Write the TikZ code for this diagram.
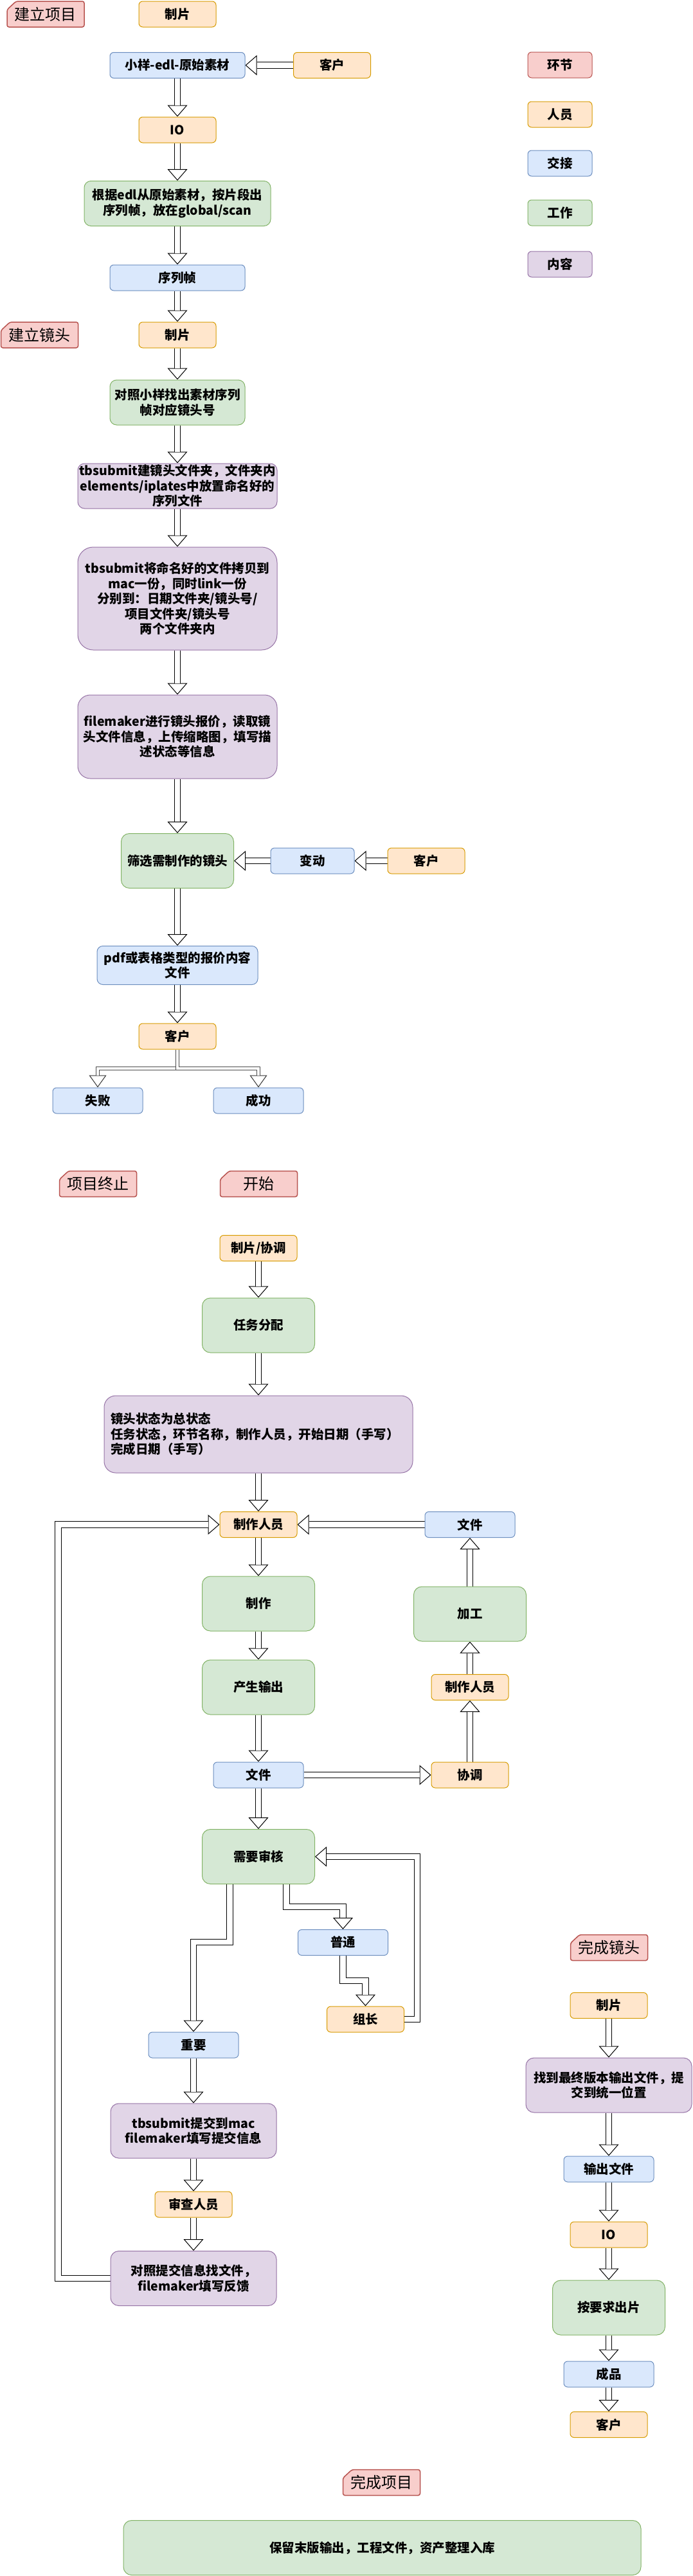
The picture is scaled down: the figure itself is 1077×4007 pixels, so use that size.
\documentclass[tikz,border=0pt]{standalone}
\usepackage{fontspec}
\setmainfont{Noto Sans CJK SC}
\usetikzlibrary{arrows.meta,backgrounds,calc}
\definecolor{redF}{HTML}{F8CECC}\definecolor{redS}{HTML}{B85450}
\definecolor{orgF}{HTML}{FFE6CC}\definecolor{orgS}{HTML}{D79B00}
\definecolor{bluF}{HTML}{DAE8FC}\definecolor{bluS}{HTML}{6C8EBF}
\definecolor{grnF}{HTML}{D5E8D4}\definecolor{grnS}{HTML}{82B366}
\definecolor{purF}{HTML}{E1D5E7}\definecolor{purS}{HTML}{9673A6}
\pgfdeclarelayer{bottom}
\pgfsetlayers{bottom,background,main}
\tikzset{
  bx/.style n args={2}{rectangle, minimum width=#1, minimum height=#2,
    rounded corners={0.15*min(#1,#2)}, line width=1pt, inner sep=0pt,
    align=center, font=\bfseries\fontsize{19.5}{23.5}\selectfont},
  hj/.style={fill=redF, draw=redS},
  ren/.style={fill=orgF, draw=orgS},
  jj/.style={fill=bluF, draw=bluS},
  gz/.style={fill=grnF, draw=grnS},
  nr/.style={fill=purF, draw=purS},
  tagtext/.style={inner sep=0pt, font=\fontsize{24}{28}\selectfont, text=black},
  tagshape/.style={fill=redF, draw=redS, line width=1.5pt, rounded corners=3pt},
  headpath/.style={draw=white, line width=1pt,
    -{Triangle[length=18pt, width=31pt, color=black, fill=white, line width=1pt]}},
  shaft/.style={draw=black, line width=1pt, double=white, double distance=8.5pt,
    line join=miter, shorten >=18pt},
  headthin/.style={draw=white, line width=1pt,
    -{Triangle[length=19pt, width=27pt, color=black!80, fill=white, line width=1pt]}},
  shaftthin/.style={draw=black!70, line width=1pt, double=white, double distance=4pt,
    line join=miter, shorten >=19pt},
}
\newcommand\flex[1]{\draw[headpath] #1; \draw[shaft] #1;}
\newcommand\flexthin[1]{\draw[headthin] #1; \draw[shaftthin] #1;}
\newcommand\tagnode[4]{%
  \filldraw[tagshape] (#2,#3) ++(-60,20) -- ++(0,-27) -- ++(14,-13) -- ++(106,0) -- ++(0,40) -- cycle;
  \node[tagtext] (#1) at (#2,#3) {#4};
}
\begin{document}
\begin{tikzpicture}[x=1pt,y=-1pt]
\begin{pgfonlayer}{bottom}
\fill[white] (0,0) rectangle (1077,4007);
\end{pgfonlayer}
\useasboundingbox (0,0) rectangle (1077,4007);

% ---------- section 1 ----------
\tagnode{tagA}{71}{22}{建立项目}
\node[bx={120pt}{40pt},ren] (zp1) at (276,22) {制片};
\node[bx={210pt}{40pt},jj] (xy) at (276,101.5) {小样-edl-原始素材};
\node[bx={120pt}{40pt},ren] (kh1) at (516.5,101.5) {客户};
\node[bx={120pt}{40pt},ren] (io1) at (276,202) {IO};
\node[bx={290pt}{70pt},gz] (gj) at (276,316.5) {根据edl从原始素材，按片段出\\序列帧，放在global/scan};
\node[bx={210pt}{40pt},jj] (xlz) at (276,432) {序列帧};
\tagnode{tagB}{61.5}{521}{建立镜头}
\node[bx={120pt}{40pt},ren] (zp2) at (276,521) {制片};
\node[bx={210pt}{70pt},gz] (dz) at (276,626) {对照小样找出素材序列\\帧对应镜头号};
\node[bx={310pt}{70pt},nr] (tb1) at (276,756) {tbsubmit建镜头文件夹，文件夹内\\elements/iplates中放置命名好的\\序列文件};
\node[bx={310pt}{160pt},nr] (tb2) at (276,931) {tbsubmit将命名好的文件拷贝到\\mac一份，同时link一份\\分别到：日期文件夹/镜头号/\\项目文件夹/镜头号\\两个文件夹内};
\node[bx={310pt}{130pt},nr] (fm) at (276,1146) {filemaker进行镜头报价，读取镜\\头文件信息，上传缩略图，填写描\\述状态等信息};
\node[bx={175pt}{85pt},gz] (sx) at (276,1339) {筛选需制作的镜头};
\node[bx={130pt}{40pt},jj] (bd) at (486,1339) {变动};
\node[bx={120pt}{40pt},ren] (kh2) at (663,1339) {客户};
\node[bx={250pt}{60pt},jj] (pdf) at (276,1501.5) {pdf或表格类型的报价内容\\文件};
\node[bx={120pt}{40pt},ren] (kh3) at (276,1612) {客户};
\node[bx={140pt}{40pt},jj] (sb) at (152,1712) {失败};
\node[bx={140pt}{40pt},jj] (cg) at (402,1712) {成功};

% ---------- legend ----------
\node[bx={100pt}{40pt},hj] (lg1) at (871,101) {环节};
\node[bx={100pt}{40pt},ren] (lg2) at (871,178) {人员};
\node[bx={100pt}{40pt},jj] (lg3) at (871,254) {交接};
\node[bx={100pt}{40pt},gz] (lg4) at (871,331) {工作};
\node[bx={100pt}{40pt},nr] (lg5) at (871,411) {内容};

% ---------- section 2 ----------
\tagnode{tagC}{152.5}{1841.5}{项目终止}
\tagnode{tagD}{402.5}{1841.5}{开始}
\node[bx={120pt}{40pt},ren] (zpxt) at (402,1941.5) {制片/协调};
\node[bx={175pt}{85pt},gz] (rwfp) at (402,2061.5) {任务分配};
\node[bx={480pt}{120pt},nr,align=left,text width=460pt] (jtzt) at (402,2231) {镜头状态为总状态\\任务状态，环节名称，制作人员，开始日期（手写）\\完成日期（手写）};
\node[bx={120pt}{40pt},ren] (zzry1) at (402,2371.5) {制作人员};
\node[bx={140pt}{40pt},jj] (wj1) at (731,2371.5) {文件};
\node[bx={175pt}{85pt},gz] (zz) at (402,2494.5) {制作};
\node[bx={175pt}{85pt},gz] (jg) at (731,2510.5) {加工};
\node[bx={120pt}{40pt},ren] (zzry2) at (731,2624.5) {制作人员};
\node[bx={175pt}{85pt},gz] (cssc) at (402,2624.5) {产生输出};
\node[bx={140pt}{40pt},jj] (wj2) at (402,2761) {文件};
\node[bx={120pt}{40pt},ren] (xt) at (731,2761) {协调};
\node[bx={175pt}{85pt},gz] (xysh) at (402,2888) {需要审核};
\node[bx={140pt}{40pt},jj] (pt) at (533.5,3021.5) {普通};
\node[bx={120pt}{40pt},ren] (zc) at (568.5,3141) {组长};
\node[bx={140pt}{40pt},jj] (zy) at (301,3181) {重要};
\node[bx={258pt}{85pt},nr] (tb3) at (301,3314.5) {tbsubmit提交到mac\\filemaker填写提交信息};
\node[bx={120pt}{40pt},ren] (scry) at (301,3429) {审查人员};
\node[bx={258pt}{85pt},nr] (dztj) at (301,3544) {对照提交信息找文件，\\filemaker填写反馈};

% ---------- right column ----------
\tagnode{tagE}{947.5}{3029.5}{完成镜头}
\node[bx={120pt}{40pt},ren] (zp3) at (947,3119.5) {制片};
\node[bx={258pt}{85pt},nr] (zdzz) at (947,3243.5) {找到最终版本输出文件，提\\交到统一位置};
\node[bx={140pt}{40pt},jj] (scwj) at (947,3374) {输出文件};
\node[bx={120pt}{40pt},ren] (io2) at (947,3476) {IO};
\node[bx={175pt}{85pt},gz] (aysc) at (947,3589.5) {按要求出片};
\node[bx={140pt}{40pt},jj] (cp) at (947,3693) {成品};
\node[bx={120pt}{40pt},ren] (kh4) at (947,3771.5) {客户};
\tagnode{tagF}{593.5}{3861.5}{完成项目}
\node[bx={805pt}{85pt},gz] (blmb) at (594.5,3963) {保留末版输出，工程文件，资产整理入库};

% ---------- connectors ----------
\begin{scope}[on background layer]
\flex{(kh1.west) -- (xy.east)}
\flex{(xy.south) -- (io1.north)}
\flex{(io1.south) -- (gj.north)}
\flex{(gj.south) -- (xlz.north)}
\flex{(xlz.south) -- (zp2.north)}
\flex{(zp2.south) -- (dz.north)}
\flex{(dz.south) -- (tb1.north)}
\flex{(tb1.south) -- (tb2.north)}
\flex{(tb2.south) -- (fm.north)}
\flex{(fm.south) -- (sx.north)}
\flex{(kh2.west) -- (bd.east)}
\flex{(bd.west) -- (sx.east)}
\flex{(sx.south) -- (pdf.north)}
\flex{(pdf.south) -- (kh3.north)}
\flexthin{(kh3.south) -- ++(0,29) -| (sb.north)}
\flexthin{(kh3.south) -- ++(0,29) -| (cg.north)}

\flex{(zpxt.south) -- (rwfp.north)}
\flex{(rwfp.south) -- (jtzt.north)}
\flex{(jtzt.south) -- (zzry1.north)}
\flex{(zzry1.south) -- (zz.north)}
\flex{(zz.south) -- (cssc.north)}
\flex{(cssc.south) -- (wj2.north)}
\flex{(wj2.south) -- (xysh.north)}
\flex{(wj2.east) -- (xt.west)}
\flex{(xt.north) -- (zzry2.south)}
\flex{(zzry2.north) -- (jg.south)}
\flex{(jg.north) -- (wj1.south)}
\flex{(wj1.west) -- (zzry1.east)}
\flex{([xshift=-44.5pt]xysh.south) -- ++(0,90) -| (zy.north)}
\flex{([xshift=43.5pt]xysh.south) -- ++(0,35) -| (pt.north)}
\flex{(pt.south) -- ++(0,39) -| (zc.north)}
\flex{(zc.east) -- ++(20,0) |- (xysh.east)}
\flex{(zy.south) -- (tb3.north)}
\flex{(tb3.south) -- (scry.north)}
\flex{(scry.south) -- (dztj.north)}
\flex{(dztj.west) -- ++(-81,0) |- (zzry1.west)}

\flex{(zp3.south) -- (zdzz.north)}
\flex{(zdzz.south) -- (scwj.north)}
\flex{(scwj.south) -- (io2.north)}
\flex{(io2.south) -- (aysc.north)}
\flex{(aysc.south) -- (cp.north)}
\flex{(cp.south) -- (kh4.north)}
\end{scope}
\end{tikzpicture}
\end{document}
